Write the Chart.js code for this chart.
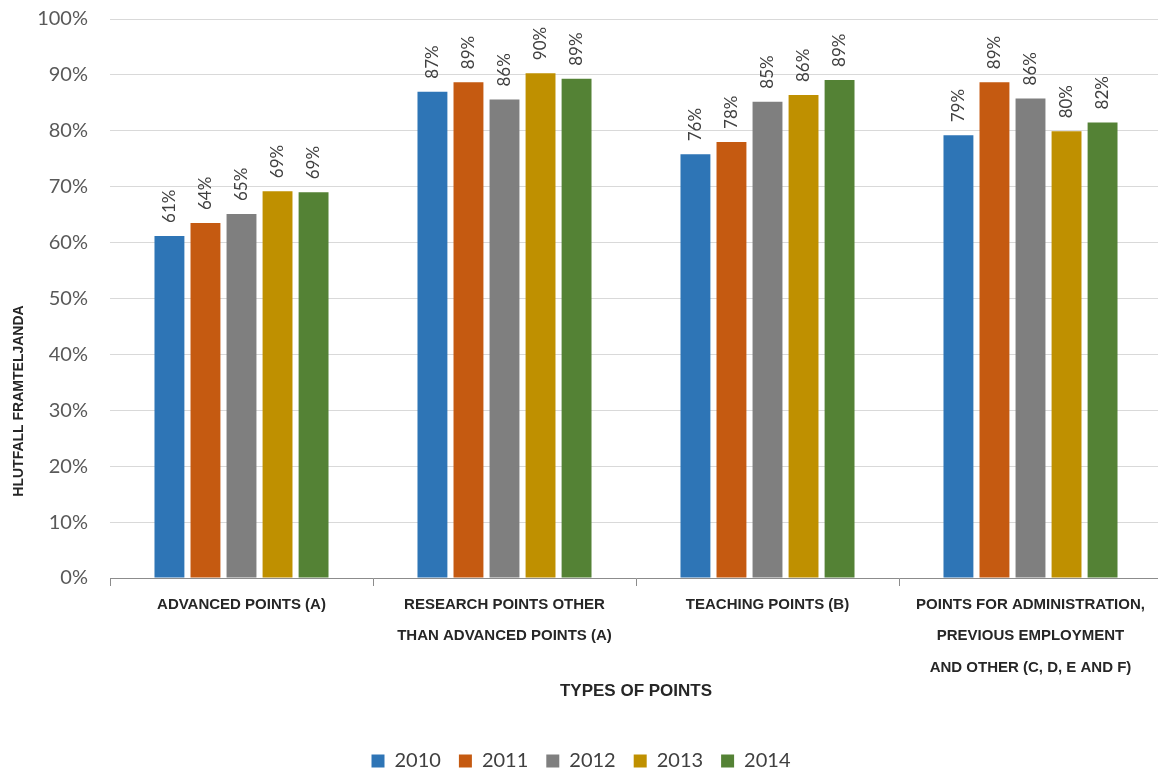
<!DOCTYPE html>
<html><head><meta charset="utf-8">
<script src="https://cdn.jsdelivr.net/npm/chart.js@4/dist/chart.umd.min.js"></script>
<style>html,body{margin:0;padding:0;overflow:hidden;background:#fff}canvas{display:block}</style>
</head><body>
<canvas id="c" width="1162" height="781"></canvas>
<script>
const categories = [
  ["ADVANCED POINTS (A)"],
  ["RESEARCH POINTS OTHER", "THAN ADVANCED POINTS (A)"],
  ["TEACHING POINTS (B)"],
  ["POINTS FOR ADMINISTRATION,", "PREVIOUS EMPLOYMENT", "AND OTHER (C, D, E AND F)"]
];
const years = ["2010", "2011", "2012", "2013", "2014"];
const v2010 = [61.2, 87.0, 75.8, 79.2];
const v2011 = [63.5, 88.7, 78.0, 88.7];
const v2012 = [65.1, 85.6, 85.2, 85.8];
const v2013 = [69.2, 90.3, 86.4, 79.9];
const v2014 = [69.0, 89.3, 89.1, 81.5];
const seriesValues = [v2010, v2011, v2012, v2013, v2014];
const colors = ["#2E75B6", "#C55A11", "#7F7F7F", "#BF9000", "#548235"];
const yTickValues = [0, 10, 20, 30, 40, 50, 60, 70, 80, 90, 100];
const xTitle = "TYPES OF POINTS";
const yTitle = "HLUTFALL FRAMTELJANDA";

const NARROW = "'Liberation Sans Narrow', 'Arial Narrow', 'Liberation Sans', sans-serif";

const barLabels = {
  id: 'barLabels',
  afterDatasetsDraw(chart) {
    const ctx = chart.ctx;
    chart.data.datasets.forEach((ds, i) => {
      chart.getDatasetMeta(i).data.forEach((bar, j) => {
        ctx.save();
        ctx.translate(bar.x, bar.y - 13);
        ctx.rotate(-Math.PI / 2);
        ctx.font = "17px Lato";
        ctx.fillStyle = "#404040";
        ctx.textAlign = "left";
        ctx.textBaseline = "middle";
        ctx.fillText(Math.round(ds.data[j]) + "%", 0, 0);
        ctx.restore();
      });
    });
  }
};
const yTitlePlugin = {
  id: 'yTitlePlugin',
  afterDraw(chart) {
    const ctx = chart.ctx;
    ctx.save();
    ctx.translate(19, 401);
    ctx.rotate(-Math.PI / 2);
    ctx.font = "bold 14px " + NARROW;
    ctx.fillStyle = "#262626";
    ctx.textAlign = "center";
    ctx.textBaseline = "middle";
    ctx.fillText(yTitle, 0, 0);
    ctx.restore();
  }
};

new Chart(document.getElementById('c'), {
  type: 'bar',
  data: {
    labels: categories,
    datasets: years.map((y, i) => ({
      label: y,
      data: seriesValues[i],
      backgroundColor: colors[i],
      borderWidth: 0,
      categoryPercentage: 0.685,
      barPercentage: 0.83
    }))
  },
  plugins: [barLabels, yTitlePlugin],
  options: {
    responsive: false,
    animation: false,
    layout: { padding: { top: 19, left: 0, right: 0, bottom: 0 } },
    plugins: {
      tooltip: { enabled: false },
      legend: {
        position: 'bottom',
        labels: {
          boxWidth: 13, boxHeight: 13, padding: 18,
          color: '#404040',
          font: { family: 'Lato', size: 20 }
        }
      }
    },
    scales: {
      x: {
        offset: true,
        grid: { offset: true, drawOnChartArea: false, drawTicks: true, tickLength: 8, color: '#8c8c8c' },
        border: { color: '#8c8c8c', width: 1 },
        ticks: {
          autoSkip: false, maxRotation: 0, minRotation: 0,
          color: '#262626', padding: 3,
          font: { family: NARROW, weight: 'bold', size: 15, lineHeight: 2.1 }
        },
        title: {
          display: true, text: xTitle, color: '#262626',
          font: { family: NARROW, weight: 'bold', size: 17 },
          padding: { top: 0, bottom: 31 }
        },
        afterFit(s) { s.height = 155; s.paddingLeft = 0; s.paddingRight = 0; }
      },
      y: {
        min: 0, max: 100,
        afterBuildTicks(s) { s.ticks = yTickValues.map(v => ({ value: v })); },
        ticks: {
          color: '#595959', padding: 22,
          font: { family: 'Lato', size: 20 },
          callback: v => v + '%'
        },
        grid: { color: '#d9d9d9', drawTicks: false },
        border: { display: false },
        afterFit(s) { s.width = 110; s.paddingTop = 0; s.paddingBottom = 0; }
      }
    }
  }
});
</script>
</body></html>
